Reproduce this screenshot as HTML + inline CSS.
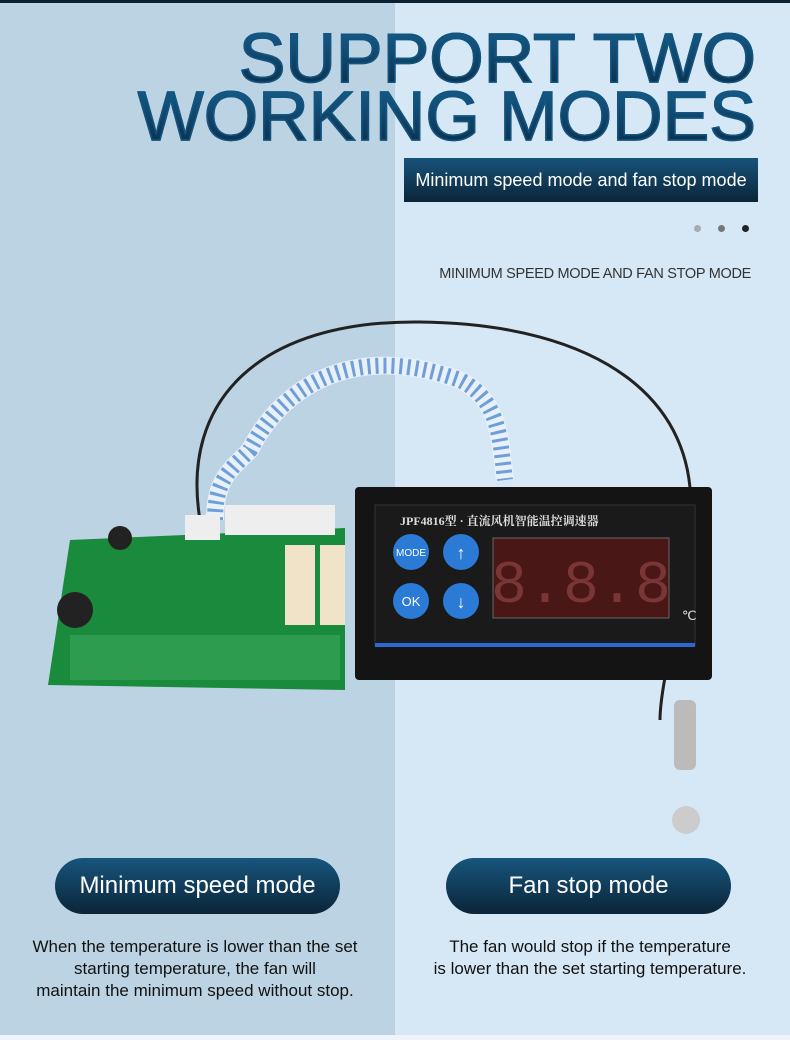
<!DOCTYPE html>
<html><head><meta charset="utf-8"><style>
*{margin:0;padding:0;box-sizing:border-box}
body{width:790px;height:1040px;position:relative;overflow:hidden;font-family:"Liberation Sans",sans-serif;background:#d6e8f6}
.l{position:absolute;left:0;top:0;width:395px;height:1036px;background:#bcd3e3}
.top{position:absolute;left:0;top:0;width:790px;height:3px;background:#0c2232}
.bot{position:absolute;left:0;top:1035px;width:790px;height:5px;background:#eef4f9}
.t{position:absolute;right:34px;font-weight:normal;font-size:70px;line-height:1;text-align:right;white-space:nowrap;background:linear-gradient(#16608f,#0b2c48);-webkit-background-clip:text;color:transparent;-webkit-text-stroke:1.5px #125580}
.box{position:absolute;left:404px;top:158px;width:354px;height:44px;background:linear-gradient(#17537a,#0b2538);color:#fff;font-size:18px;line-height:44px;text-align:center;white-space:nowrap}
.dot{position:absolute;top:225px;width:7px;height:7px;border-radius:50%}
.sub{position:absolute;right:39px;top:266px;font-size:14.5px;color:#333;letter-spacing:-.3px}
.pill{position:absolute;top:858px;width:285px;height:56px;border-radius:28px;background:linear-gradient(#17557d,#0b2538);color:#fff;font-size:24px;line-height:56px;text-align:center}
.p{position:absolute;top:936px;font-size:17px;line-height:22px;color:#111;text-align:center;white-space:nowrap}
</style></head><body>
<div class="l"></div><div class="top"></div><div class="bot"></div>
<div class="t" style="top:23px">SUPPORT TWO</div>
<div class="t" style="top:81px">WORKING MODES</div>
<div class="box">Minimum speed mode and fan stop mode</div>
<div class="dot" style="left:694px;background:#aaa"></div>
<div class="dot" style="left:718px;background:#777"></div>
<div class="dot" style="left:742px;background:#222"></div>
<div class="sub">MINIMUM SPEED MODE AND FAN STOP MODE</div>
<svg style="position:absolute;left:0;top:0" width="790" height="1040">
<path d="M200 520 C180 400 260 320 420 322 C600 324 700 400 690 520 C685 600 660 680 660 720" stroke="#222" stroke-width="3" fill="none"/>
<path d="M215 520 C215 480 230 470 250 450 C280 390 350 340 460 380 C500 400 500 440 505 480" stroke="#e8f0fa" stroke-width="18" fill="none"/>
<path d="M215 520 C215 480 230 470 250 450 C280 390 350 340 460 380 C500 400 500 440 505 480" stroke="#6f9fd6" stroke-width="16" fill="none" stroke-dasharray="3 5"/>
<polygon points="70,540 345,528 345,690 48,685" fill="#1a8a3c"/>
<rect x="70" y="635" width="270" height="45" fill="#2d9c4f"/>
<rect x="185" y="515" width="35" height="25" fill="#eee"/>
<rect x="225" y="505" width="110" height="30" fill="#eee"/>
<rect x="285" y="545" width="30" height="80" fill="#f1e3c8"/>
<rect x="320" y="545" width="25" height="80" fill="#f1e3c8"/>
<circle cx="75" cy="610" r="18" fill="#222"/><circle cx="120" cy="538" r="12" fill="#222"/>
<rect x="355" y="487" width="357" height="193" rx="4" fill="#141414"/>
<rect x="375" y="505" width="320" height="140" fill="#1a1a1a" stroke="#333"/>
<rect x="375" y="643" width="320" height="4" fill="#2a6ad0"/>
<text x="400" y="525" fill="#ddd" font-size="12" font-family="Liberation Serif,Noto Serif CJK SC,serif" font-weight="bold">JPF4816型 · 直流风机智能温控调速器</text>
<circle cx="411" cy="552" r="18" fill="#2a7ad6"/><text x="411" y="556" fill="#fff" font-size="10" text-anchor="middle">MODE</text>
<circle cx="461" cy="552" r="18" fill="#2a7ad6"/><text x="461" y="559" fill="#fff" font-size="18" text-anchor="middle">↑</text>
<circle cx="411" cy="601" r="18" fill="#2a7ad6"/><text x="411" y="606" fill="#fff" font-size="13" text-anchor="middle">OK</text>
<circle cx="461" cy="601" r="18" fill="#2a7ad6"/><text x="461" y="608" fill="#fff" font-size="18" text-anchor="middle">↓</text>
<rect x="493" y="538" width="176" height="80" fill="#4a1717" stroke="#666"/>
<text x="581" y="602" fill="#7a3535" font-size="60" text-anchor="middle" font-family="Liberation Mono,monospace">8.8.8</text>
<text x="682" y="620" fill="#ddd" font-size="13">℃</text>
<rect x="674" y="700" width="22" height="70" rx="6" fill="#bbb"/>
<circle cx="686" cy="820" r="14" fill="#ccc"/>
</svg>
<div class="pill" style="left:55px">Minimum speed mode</div>
<div class="pill" style="left:446px">Fan stop mode</div>
<div class="p" style="left:15px;width:360px">When the temperature is lower than the set<br>starting temperature, the fan will<br>maintain the minimum speed without stop.</div>
<div class="p" style="left:410px;width:360px">The fan would stop if the temperature<br>is lower than the set starting temperature.</div>
</body></html>
